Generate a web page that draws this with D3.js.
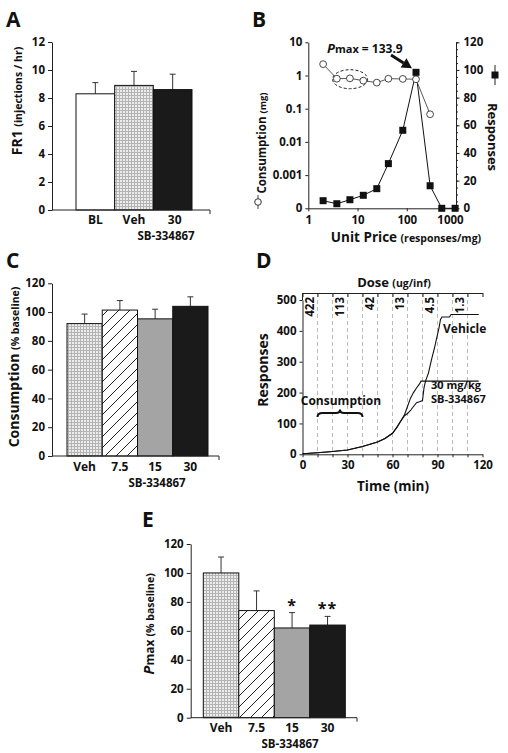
<!DOCTYPE html>
<html><head><meta charset="utf-8">
<script src="https://cdn.jsdelivr.net/npm/d3@7"></script>
<style>
body{margin:0;background:#fff;}
svg{display:block;font-family:'Open Sans',sans-serif;font-weight:700;}
text{font-weight:700;fill:#111;}
</style>
</head><body>
<svg id="c" width="508" height="753"></svg>
<script>
// ---------- DATA ----------
// Panel A
const aCats = ["BL", "Veh", "30"];
const aMeans = [8.3, 8.9, 8.6];
const aErrs = [0.8, 1.0, 1.1];
const aTicks = [0, 2, 4, 6, 8, 10, 12];
// Panel B
const bPrices = [2.0, 3.8, 7.0, 13.1, 24.6, 42.3, 83, 154, 298, 514, 959];
const bConsumption = [2.2, 0.80, 0.82, 0.70, 0.61, 0.80, 0.79, 0.77, 0.068];
const bResponses = [5.5, 3.3, 6.2, 9.4, 14.2, 32.3, 56.4, 98.3, 16.3, 0, 0];
const bLeftTicks = [0.0001, 0.001, 0.01, 0.1, 1, 10];
const bLeftLabels = ["0", "0.001", "0.01", "0.1", "1", "10"];
const bRightTicks = [0, 20, 40, 60, 80, 100, 120];
const bXTicks = [1, 10, 100, 1000];
const bPmax = "133.9";
// Panel C
const cCats = ["Veh", "7.5", "15", "30"];
const cMeans = [92, 101.4, 95.3, 104];
const cErrs = [6.6, 6.6, 6.7, 6.6];
const pctTicks = [0, 20, 40, 60, 80, 100, 120];
// Panel D
const dYTicks = [0, 100, 200, 300, 400, 500];
const dXLabelTicks = [0, 30, 60, 90, 120];
const dDoseTimes = [5, 25, 45, 65, 85, 105];
const dDoseLabels = ["422", "113", "42", "13", "4.5", "1.3"];
const vehTime = [0, 10, 20, 30, 40, 50, 55, 60, 63, 65, 68, 70, 72, 74, 76, 78, 80, 81, 82, 84, 86, 88, 89, 91, 92, 93, 98, 99, 117.5];
const vehResp = [2, 5, 9, 14, 25, 40, 51, 68, 88, 104, 125, 132, 142, 155, 167, 170, 174, 215, 237, 264, 307, 345, 367, 410, 437, 445, 445, 453, 453];
const sbTime = [0, 10, 20, 30, 40, 50, 55, 60, 63, 65, 68, 70, 72, 74, 76, 78, 79, 117.5];
const sbResp = [2, 5, 9, 14, 25, 40, 51, 68, 88, 104, 128, 155, 182, 200, 215, 228, 237, 237];
// Panel E
const eCats = ["Veh", "7.5", "15", "30"];
const eMeans = [100, 74, 62, 64];
const eErrs = [11, 13.6, 10.6, 6];
const eStars = ["", "", "*", "**"];

// ---------- SETUP ----------
const svg = d3.select("#c");
const defs = svg.append("defs");
const grid = defs.append("pattern").attr("id", "grid").attr("patternUnits", "userSpaceOnUse")
  .attr("width", 3).attr("height", 3);
grid.append("rect").attr("width", 3).attr("height", 3).attr("fill", "#ececec");
grid.append("path").attr("d", "M0,2.5H3M2.5,0V3").attr("stroke", "#b4b4b4").attr("stroke-width", 1);
const hatch = defs.append("pattern").attr("id", "hatch").attr("patternUnits", "userSpaceOnUse")
  .attr("width", 11).attr("height", 11);
hatch.append("rect").attr("width", 11).attr("height", 11).attr("fill", "#fff");
hatch.append("path").attr("d", "M-1,1L1,-1M0,11L11,0M10,12L12,10").attr("stroke", "#222").attr("stroke-width", 1);

const TICKF = 11.5;
function letter(t, x, y) {
  svg.append("text").attr("x", x).attr("y", y).attr("font-size", 21).text(t);
}
function styleAxis(g) {
  g.selectAll("text").attr("font-size", TICKF).attr("font-weight", 700).attr("fill", "#111")
    .attr("font-family", "'Open Sans',sans-serif");
  g.selectAll("line,path").attr("stroke", "#222");
}
function rotLabel(cx, cy, angle, parts) {
  const t = svg.append("text").attr("transform", `translate(${cx},${cy}) rotate(${angle})`)
    .attr("text-anchor", "middle").attr("dy", "0.35em");
  parts.forEach(p => {
    const s = t.append("tspan").attr("font-size", p.size).text(p.t);
    if (p.italic) s.attr("font-style", "italic");
  });
  return t;
}
function hLabel(cx, y, parts) {
  const t = svg.append("text").attr("x", cx).attr("y", y).attr("text-anchor", "middle");
  parts.forEach(p => t.append("tspan").attr("font-size", p.size).text(p.t));
  return t;
}

// Generic bar panel
function barPanel(o) {
  const x = d3.scaleBand().domain(o.cats).range(o.xr).paddingInner(0).paddingOuter(0);
  const y = d3.scaleLinear().domain([0, o.ymax]).range(o.yr);
  const g = svg.append("g");
  // error bars
  o.cats.forEach((c, i) => {
    const cx = x(c) + x.bandwidth() / 2;
    g.append("line").attr("x1", cx).attr("x2", cx).attr("y1", y(o.means[i])).attr("y2", y(o.means[i] + o.errs[i]))
      .attr("stroke", "#333").attr("stroke-width", 1);
    g.append("line").attr("x1", cx - 3).attr("x2", cx + 3).attr("y1", y(o.means[i] + o.errs[i])).attr("y2", y(o.means[i] + o.errs[i]))
      .attr("stroke", "#333").attr("stroke-width", 1);
  });
  g.selectAll("rect.bar").data(o.cats).join("rect").attr("class", "bar")
    .attr("x", d => x(d)).attr("width", x.bandwidth())
    .attr("y", (d, i) => y(o.means[i])).attr("height", (d, i) => y(0) - y(o.means[i]))
    .attr("fill", (d, i) => o.fills[i]).attr("stroke", "#111").attr("stroke-width", 1);
  // y axis
  const ya = svg.append("g").attr("transform", `translate(${o.ax},0)`)
    .call(d3.axisLeft(y).tickValues(o.ticks).tickSize(4).tickSizeOuter(0).tickPadding(3).tickFormat(d3.format("d")));
  styleAxis(ya);
  // x axis
  svg.append("line").attr("x1", o.ax).attr("x2", o.xEnd).attr("y1", y(0)).attr("y2", y(0)).attr("stroke", "#222");
  svg.append("line").attr("x1", o.xEnd).attr("x2", o.xEnd).attr("y1", y(0)).attr("y2", y(0) + 4).attr("stroke", "#222");
  o.cats.forEach((c, i) => {
    svg.append("text").attr("x", x(c) + x.bandwidth() / 2 + (o.labelShift ? o.labelShift[i] : 0)).attr("y", o.catY)
      .attr("text-anchor", "middle").attr("font-size", 12).text(c);
  });
  svg.append("text").attr("x", o.groupX).attr("y", o.groupY).attr("text-anchor", "middle")
    .attr("font-size", 11.5).text("SB-334867");
  return { x, y };
}

// ---------- PANEL A ----------
letter("A", 6, 27);
barPanel({
  cats: aCats, means: aMeans, errs: aErrs, ymax: 12, ticks: aTicks,
  xr: [76, 192], yr: [210, 42], ax: 52, xEnd: 210,
  fills: ["#fff", "url(#grid)", "#1a1a1a"], catY: 224, groupX: 166, groupY: 240, labelShift: [0, 0, 2]
});
rotLabel(16, 101, -90, [{ t: "FR1 ", size: 14 }, { t: "(injections / hr)", size: 10.5 }]);

// ---------- PANEL B ----------
letter("B", 252, 27);
const bx = d3.scaleLog().domain([1, 1000]).range([308.3, 456]);
const byL = d3.scaleLog().domain([0.0001, 10]).range([208.3, 42.3]);
const byR = d3.scaleLinear().domain([0, 120]).range([208.3, 42.3]);
const bL = svg.append("g").attr("transform", "translate(308.3,0)")
  .call(d3.axisLeft(byL).tickValues(bLeftTicks).tickSize(3).tickSizeOuter(0).tickPadding(3)
    .tickFormat((d, i) => bLeftLabels[i]));
styleAxis(bL);
const bRminor = svg.append("g").attr("transform", "translate(456,0)")
  .call(d3.axisRight(byR).tickValues(d3.range(0, 121, 5)).tickSize(2).tickSizeOuter(0).tickFormat(""));
styleAxis(bRminor);
const bR = svg.append("g").attr("transform", "translate(456,0)")
  .call(d3.axisRight(byR).tickValues(bRightTicks).tickSize(3.5).tickSizeOuter(0).tickPadding(4));
styleAxis(bR);
const bX = svg.append("g").attr("transform", "translate(0,208.3)")
  .call(d3.axisBottom(bx).tickValues(bXTicks).tickSize(3).tickSizeOuter(0).tickPadding(5).tickFormat(d3.format("d")));
styleAxis(bX);
bX.selectAll(".tick text").filter(d => d === 1000).attr("dx", -6);
// dashed ellipse around plateau points
const eCx = Math.sqrt(bPrices[1] * bPrices[3]);
svg.append("ellipse").attr("cx", bx(eCx)).attr("cy", byL(d3.mean(bConsumption.slice(1, 4))))
  .attr("rx", 17.5).attr("ry", 9.5).attr("fill", "none").attr("stroke", "#222").attr("stroke-dasharray", "3,2").attr("stroke-width", 1);
// responses line + squares
const respPts = bPrices.map((p, i) => [p, bResponses[i]]);
svg.append("path").attr("d", d3.line().x(d => bx(d[0])).y(d => byR(d[1]))(respPts))
  .attr("fill", "none").attr("stroke", "#111").attr("stroke-width", 1);
// consumption line + circles
const consPts = bConsumption.map((c, i) => [bPrices[i], c]);
svg.append("path").attr("d", d3.line().x(d => bx(d[0])).y(d => byL(d[1]))(consPts))
  .attr("fill", "none").attr("stroke", "#444").attr("stroke-width", 0.9);
svg.selectAll("circle.cons").data(consPts).join("circle").attr("class", "cons")
  .attr("cx", d => bx(d[0])).attr("cy", d => byL(d[1])).attr("r", 3.4)
  .attr("fill", "#fff").attr("stroke", "#333").attr("stroke-width", 0.9);
svg.selectAll("rect.resp").data(respPts).join("rect").attr("class", "resp")
  .attr("x", d => bx(d[0]) - 3.5).attr("y", d => byR(d[1]) - 3.5).attr("width", 7).attr("height", 7)
  .attr("fill", "#111");
// Pmax label and arrow
const pk = respPts[bResponses.indexOf(d3.max(bResponses))];
const tipX = bx(pk[0]) - 4, tipY = byR(pk[1]) - 4;
const ang = Math.atan2(tipY - 55, tipX - 391);
const hl = 10, hw = 5.5;
const bxp = tipX - hl * Math.cos(ang), byp = tipY - hl * Math.sin(ang);
svg.append("line").attr("x1", 391).attr("y1", 55).attr("x2", bxp).attr("y2", byp).attr("stroke", "#111").attr("stroke-width", 3);
svg.append("path").attr("d", `M${tipX},${tipY}L${bxp + hw * Math.sin(ang)},${byp - hw * Math.cos(ang)}L${bxp - hw * Math.sin(ang)},${byp + hw * Math.cos(ang)}Z`)
  .attr("fill", "#111");
const pt = svg.append("text").attr("x", 327).attr("y", 52.5);
pt.append("tspan").attr("font-size", 13).attr("font-style", "italic").text("P");
pt.append("tspan").attr("font-size", 11).text("max");
pt.append("tspan").attr("font-size", 12).text(" = " + bPmax);
// axis labels with legend markers
rotLabel(260, 143, -90, [{ t: "Consumption ", size: 11.5 }, { t: "(mg)", size: 9.5 }]);
svg.append("line").attr("x1", 258).attr("x2", 258).attr("y1", 195).attr("y2", 209).attr("stroke", "#444");
svg.append("circle").attr("cx", 258).attr("cy", 202).attr("r", 3.3).attr("fill", "#fff").attr("stroke", "#333");
rotLabel(494, 137, 90, [{ t: "Responses", size: 13 }]);
svg.append("line").attr("x1", 495).attr("x2", 495).attr("y1", 65).attr("y2", 85).attr("stroke", "#222");
svg.append("rect").attr("x", 491.5).attr("y", 71.5).attr("width", 7).attr("height", 7).attr("fill", "#111");
hLabel(406, 242, [{ t: "Unit Price ", size: 13.5 }, { t: "(responses/mg)", size: 10.5 }]);

// ---------- PANEL C ----------
letter("C", 6, 268);
barPanel({
  cats: cCats, means: cMeans, errs: cErrs, ymax: 120, ticks: pctTicks,
  xr: [67, 208], yr: [456, 283.3], ax: 52, xEnd: 219,
  fills: ["url(#grid)", "url(#hatch)", "#a4a4a4", "#1a1a1a"], catY: 471, groupX: 157, groupY: 487
});
rotLabel(13, 367, -90, [{ t: "Consumption ", size: 14 }, { t: "(% baseline)", size: 10.5 }]);

// ---------- PANEL D ----------
letter("D", 256, 268);
const dx = d3.scaleLinear().domain([0, 120]).range([302.5, 482.5]);
const dy = d3.scaleLinear().domain([0, 500]).range([454.3, 300]);
const dTop = 293;
// dashed gridlines
svg.selectAll("line.dg").data(d3.range(10, 111, 10)).join("line").attr("class", "dg")
  .attr("x1", d => dx(d)).attr("x2", d => dx(d)).attr("y1", dTop).attr("y2", dy(0))
  .attr("stroke", "#aaa").attr("stroke-width", 0.8).attr("stroke-dasharray", "4,3");
// axes
const dL = svg.append("g").attr("transform", `translate(${dx(0)},0)`)
  .call(d3.axisLeft(dy).tickValues(dYTicks).tickSize(3).tickSizeOuter(0).tickPadding(3));
styleAxis(dL);
svg.append("line").attr("x1", dx(0)).attr("x2", dx(0)).attr("y1", dTop).attr("y2", dy(500)).attr("stroke", "#222");
const dB = svg.append("g").attr("transform", `translate(0,${dy(0)})`)
  .call(d3.axisBottom(dx).tickValues(d3.range(0, 121, 10)).tickSize(3).tickSizeOuter(0).tickPadding(4)
    .tickFormat(d => dXLabelTicks.includes(d) ? d : ""));
styleAxis(dB);
const dT = svg.append("g").attr("transform", `translate(0,${dTop})`)
  .call(d3.axisBottom(dx).tickValues(d3.range(0, 121, 10)).tickSize(4).tickSizeOuter(0).tickFormat(""));
styleAxis(dT);
// dose labels
dDoseTimes.forEach((t, i) => {
  svg.append("text").attr("transform", `translate(${dx(t) + 4},${dTop + 4}) rotate(-90)`)
    .attr("text-anchor", "end").attr("font-size", 11.5).text(dDoseLabels[i]);
});
hLabel(394, 287, [{ t: "Dose ", size: 13 }, { t: "(ug/inf)", size: 10.5 }]);
// curves
const dline = d3.line().x(d => dx(d[0])).y(d => dy(d[1]));
svg.append("path").attr("d", dline(sbTime.map((t, i) => [t, sbResp[i]])))
  .attr("fill", "none").attr("stroke", "#111").attr("stroke-width", 1.1);
svg.append("path").attr("d", dline(vehTime.map((t, i) => [t, vehResp[i]])))
  .attr("fill", "none").attr("stroke", "#111").attr("stroke-width", 1.1);
svg.append("text").attr("x", 443).attr("y", 333).attr("font-size", 12).text("Vehicle");
svg.append("text").attr("x", 431).attr("y", 389).attr("font-size", 11).text("30 mg/kg");
svg.append("text").attr("x", 431).attr("y", 403).attr("font-size", 11).text("SB-334867");
svg.append("text").attr("x", 341).attr("y", 404.5).attr("text-anchor", "middle").attr("font-size", 12).text("Consumption");
// brace over t = 10..40
{
  const x1 = dx(10), x2 = dx(40), xm = (x1 + x2) / 2, yb = 413;
  svg.append("path").attr("d",
    `M${x1},${yb + 4}Q${x1},${yb} ${x1 + 5},${yb}L${xm - 4},${yb}Q${xm},${yb} ${xm},${yb - 3.5}Q${xm},${yb} ${xm + 4},${yb}L${x2 - 5},${yb}Q${x2},${yb} ${x2},${yb + 4}`)
    .attr("fill", "none").attr("stroke", "#111").attr("stroke-width", 2);
}
rotLabel(262, 370, -90, [{ t: "Responses", size: 14 }]);
hLabel(393, 491, [{ t: "Time (min)", size: 13.5 }]);

// ---------- PANEL E ----------
letter("E", 142, 527);
const E = barPanel({
  cats: eCats, means: eMeans, errs: eErrs, ymax: 120, ticks: pctTicks,
  xr: [203.3, 345.3], yr: [717.7, 544], ax: 190.7, xEnd: 357,
  fills: ["url(#grid)", "url(#hatch)", "#a4a4a4", "#1a1a1a"], catY: 732, groupX: 290, groupY: 748
});
eCats.forEach((c, i) => {
  if (!eStars[i]) return;
  svg.append("text").attr("x", E.x(c) + E.x.bandwidth() / 2).attr("y", E.y(eMeans[i] + eErrs[i]) - 2)
    .attr("text-anchor", "middle").attr("font-size", 16).attr("font-weight", 400).attr("letter-spacing", 1).text(eStars[i]);
});
{
  const t = svg.append("text").attr("transform", "translate(148,624) rotate(-90)").attr("text-anchor", "middle").attr("dy", "0.35em");
  t.append("tspan").attr("font-size", 15).attr("font-style", "italic").text("P");
  t.append("tspan").attr("font-size", 12).text("max ");
  t.append("tspan").attr("font-size", 10.5).text("(% baseline)");
}
</script>
</body></html>
